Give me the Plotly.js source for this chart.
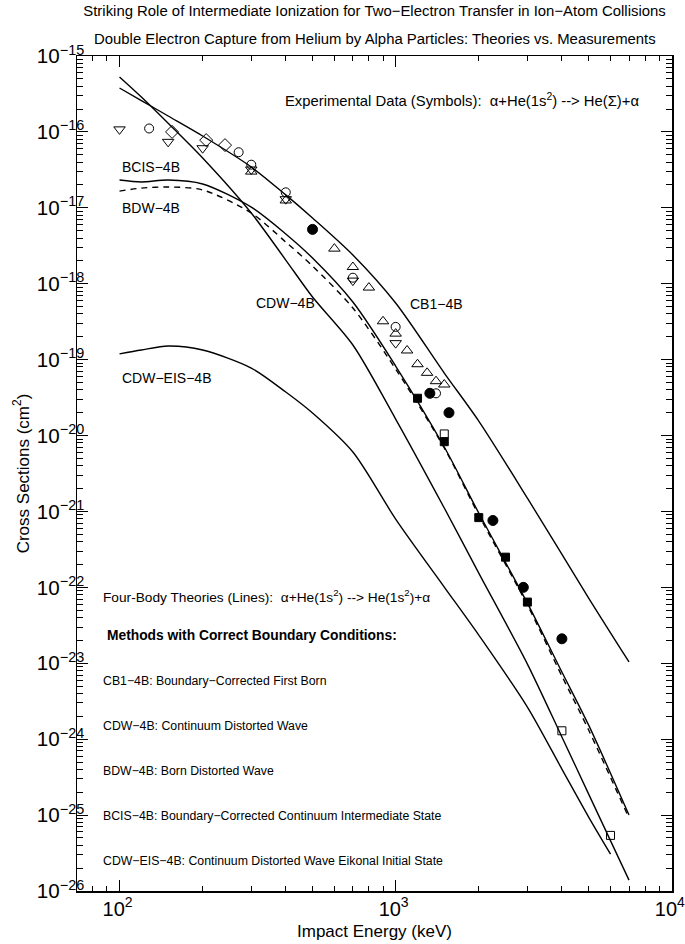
<!DOCTYPE html>
<html><head><meta charset="utf-8">
<script src="https://cdn.plot.ly/plotly-3.0.1.min.js"></script>
<style>html,body{margin:0;padding:0;background:#fff}</style>
</head><body><div id="chart" style="width:685px;height:944px"></div>
<script>
// ---- Theory curves (keV, cm^2) ----
const cb1E = [100,120,150,200,300,400,500,700,1000,1500,2000,3000,5000,7000];
const cb1S = [3.79e-16,2.59e-16,1.62e-16,8.83e-17,3.45e-17,1.48e-17,7.34e-18,2.39e-18,5.57e-19,6.66e-20,1.55e-20,1.50e-21,7.23e-23,1.04e-23];

const cdwE = [100,120,150,200,300,400,500,700,1000,1500,2000,3000,4000,5000,7000];
const cdwS = [5.29e-16,2.88e-16,1.30e-16,4.53e-17,8.54e-18,2.05e-18,6.68e-19,1.56e-19,1.65e-20,1.11e-21,1.54e-22,9.76e-24,1.07e-24,1.89e-25,1.39e-26];

const bcisE = [100,120,150,200,300,400,500,700,1000,1500,2000,3000,4000,5000,7000];
const bcisS = [2.32e-17,2.19e-17,2.32e-17,2.06e-17,1.02e-17,4.52e-18,2.18e-18,5.74e-19,8.24e-20,7.06e-21,9.53e-22,6.21e-23,7.66e-24,1.53e-24,1.0e-25];

const bdwE = [100,120,150,200,300,400,500,700,1000,1500,2000,3000,4000,5000,7000];
const bdwS = [1.66e-17,1.82e-17,1.88e-17,1.72e-17,8.54e-18,3.54e-18,1.71e-18,4.79e-19,7.52e-20,6.85e-21,8.97e-22,5.85e-23,6.78e-24,1.32e-24,9.13e-26];

const eisE = [100,120,150,200,300,400,500,700,1000,1500,2000,3000,4000,5000,6000];
const eisS = [1.19e-19,1.34e-19,1.51e-19,1.34e-19,7.75e-20,3.74e-20,1.98e-20,6.06e-21,7.94e-22,1.01e-22,2.35e-23,2.65e-24,4.04e-25,9.42e-26,3.06e-26];

// ---- Experimental data (keV, cm^2) ----
const triDownE = [100,150,200,300,400,700,1000];
const triDownS = [1.08e-16,7.4e-17,6.1e-17,3.2e-17,1.3e-17,1.1e-18,1.65e-19];
const circOpenE = [128,270,300,400,700,1000,1400];
const circOpenS = [1.11e-16,5.4e-17,3.7e-17,1.6e-17,1.2e-18,2.7e-19,3.6e-20];
const diamE = [155,206,241];
const diamS = [1.0e-16,7.8e-17,6.7e-17];
const triUpE = [300,400,600,700,800,900,1000,1100,1200,1300,1400,1500];
const triUpS = [3.0e-17,1.25e-17,2.9e-18,1.66e-18,8.9e-19,3.2e-19,2.2e-19,1.32e-19,8.7e-20,6.7e-20,5.2e-20,4.7e-20];
const circFillE = [500,1330,1560,2250,2900,4000];
const circFillS = [5.2e-18,3.6e-20,2.0e-20,7.6e-22,1.0e-22,2.1e-23];
const sqFillE = [1200,1500,2000,2500,3000];
const sqFillS = [3.1e-20,8.3e-21,8.3e-22,2.5e-22,6.4e-23];
const sqOpenE = [1500,4000,6000];
const sqOpenS = [1.05e-20,1.29e-24,5.4e-26];

const F = 'Liberation Sans, Arial, Helvetica, sans-serif';
function line(x,y,dash){return {x:x,y:y,mode:'lines',type:'scatter',line:{color:'black',width:1.4,dash:dash||'solid',shape:'spline',smoothing:0.8},hoverinfo:'skip'};}
function pts(x,y,sym,size){return {x:x,y:y,mode:'markers',type:'scatter',marker:{symbol:sym,size:size||9,color:'black',line:{color:'black',width:1}},hoverinfo:'skip'};}

const data = [
  line(cb1E,cb1S), line(cdwE,cdwS), line(bcisE,bcisS), line(bdwE,bdwS,'6px,5px'), line(eisE,eisS),
  pts(triDownE,triDownS,'triangle-down-open',10),
  pts(circOpenE,circOpenS,'circle-open',9),
  pts(diamE,diamS,'diamond-open',10),
  pts(triUpE,triUpS,'triangle-up-open',10),
  pts(circFillE,circFillS,'circle',10),
  pts(sqFillE,sqFillS,'square',8),
  pts(sqOpenE,sqOpenS,'square-open',8)
];

function ann(text,x,y,size,opts){return Object.assign({text:text,xref:'paper',yref:'paper',x:x,y:y,xanchor:'left',yanchor:'middle',showarrow:false,font:{family:F,size:size,color:'black'}},opts||{});}

const layout = {
  width:685, height:944,
  margin:{l:77,r:13,t:56,b:53},
  paper_bgcolor:'white', plot_bgcolor:'white',
  showlegend:false, hovermode:false,
  font:{family:F,color:'black'},
  title:{text:'Striking Role of Intermediate Ionization for Two−Electron Transfer in Ion−Atom Collisions',
         font:{family:F,size:14.9,color:'black'}, x:0.5, xref:'paper', y:1-11/944, yref:'container', yanchor:'middle'},
  xaxis:{type:'log', range:[1.846,4.0008], dtick:1, exponentformat:'power', showexponent:'all',
         ticks:'inside', ticklen:11, tickwidth:1, tickcolor:'black', ticklabeloverflow:'allow', ticklabelshift:-2,
         minor:{ticks:'inside', ticklen:5, tickwidth:1, tickcolor:'black', dtick:'D1', showgrid:false},
         showline:true, linecolor:'black', linewidth:1.5, mirror:'allticks', showgrid:false, zeroline:false,
         tickfont:{family:F,size:16,color:'black'},
         title:{text:'Impact Energy (keV)', font:{family:F,size:17,color:'black'}, standoff:6}},
  yaxis:{type:'log', range:[-26,-15], dtick:1, exponentformat:'power', showexponent:'all',
         ticks:'inside', ticklen:11, tickwidth:1, tickcolor:'black', ticklabelstandoff:-12,
         minor:{ticks:'inside', ticklen:6, tickwidth:1, tickcolor:'black', dtick:'D1', showgrid:false},
         showline:true, linecolor:'black', linewidth:1.5, mirror:'allticks', showgrid:false, zeroline:false,
         tickfont:{family:F,size:16.5,color:'black'},
         title:{text:'Cross Sections (cm<sup>2</sup>)', font:{family:F,size:17,color:'black'}, standoff:3}},
  annotations:[
    ann('Double Electron Capture from Helium by Alpha Particles: Theories vs. Measurements',0.5,1.0204,14.9,{xanchor:'center'}),
    ann('Experimental Data (Symbols):  α+He(1s<sup>2</sup>) --&gt; He(Σ)+α',0.3467,0.9473,14.8),
    ann('BCIS−4B',0.0728,0.8671,14),
    ann('BDW−4B',0.0728,0.8180,14),
    ann('CDW−4B',0.298,0.7042,14),
    ann('CB1−4B',0.5568,0.7030,14),
    ann('CDW−EIS−4B',0.0728,0.6144,14),
    ann('Four-Body Theories (Lines):  α+He(1s<sup>2</sup>) --&gt; He(1s<sup>2</sup>)+α',0.0408,0.3533,13.7),
    ann('<b>Methods with Correct Boundary Conditions:</b>',0.0476,0.3054,13.8),
    ann('CB1−4B: Boundary−Corrected First Born',0.0408,0.2515,12.3),
    ann('CDW−4B: Continuum Distorted Wave',0.0408,0.1976,12.3),
    ann('BDW−4B: Born Distorted Wave',0.0408,0.1437,12.3),
    ann('BCIS−4B: Boundary−Corrected Continuum Intermediate State',0.0408,0.0898,12.3),
    ann('CDW−EIS−4B: Continuum Distorted Wave Eikonal Initial State',0.0408,0.0359,12.3)
  ]
};
Plotly.newPlot('chart',data,layout,{staticPlot:true});
</script></body></html>
